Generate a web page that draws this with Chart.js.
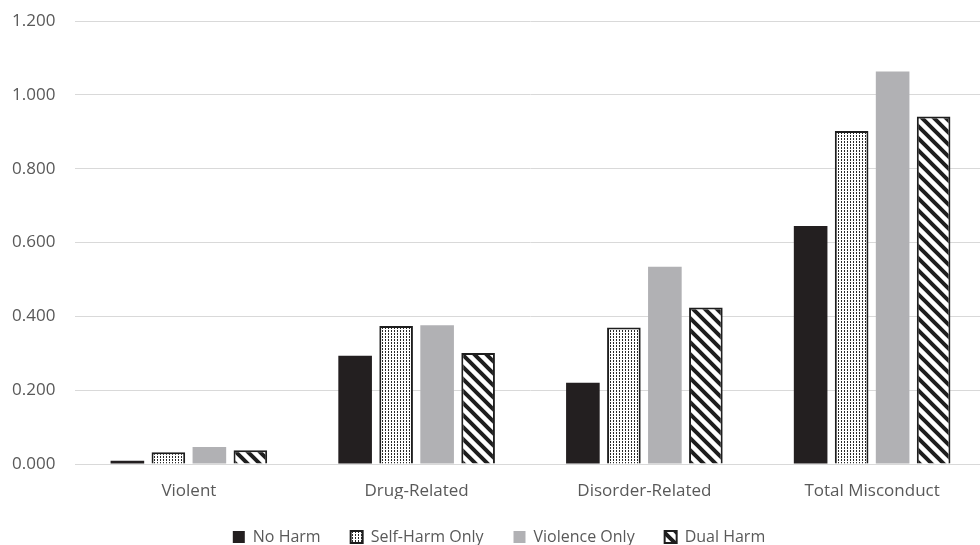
<!DOCTYPE html>
<html>
<head>
<meta charset="utf-8">
<script src="https://cdn.jsdelivr.net/npm/chart.js@4/dist/chart.umd.min.js"></script>
<style>
  html, body { margin: 0; padding: 0; background: #ffffff; overflow: hidden; }
  #wrap { width: 986px; height: 545px; position: relative; }
</style>
</head>
<body>
<div id="wrap"><canvas id="chart"></canvas></div>
<script>
// Misconduct rates by harm group
const categories = ['Violent', 'Drug-Related', 'Disorder-Related', 'Total Misconduct'];
const noHarm        = [0.009, 0.293, 0.220, 0.645];
const selfHarmOnly  = [0.032, 0.374, 0.370, 0.902];
const violenceOnly  = [0.046, 0.376, 0.534, 1.063];
const dualHarm      = [0.037, 0.301, 0.424, 0.941];
const yTicks = [0, 0.2, 0.4, 0.6, 0.8, 1.0, 1.2];

const textColor = '#595959';
const fontFamily = "'Open Sans', 'Liberation Sans', sans-serif";

function makeCanvas(w, h) {
  const c = document.createElement('canvas');
  c.width = w; c.height = h;
  return c;
}

// fine dot grid fill
function dotPattern() {
  const c = makeCanvas(3, 3);
  const g = c.getContext('2d');
  g.fillStyle = '#ffffff';
  g.fillRect(0, 0, 3, 3);
  g.fillStyle = '#2a2a2a';
  g.fillRect(1, 0, 1, 2);
  return g.createPattern(c, 'repeat');
}

// wide diagonal stripes running top-left to bottom-right
function stripePattern() {
  const s = 12;
  const c = makeCanvas(s, s);
  const g = c.getContext('2d');
  g.fillStyle = '#ffffff';
  g.fillRect(0, 0, s, s);
  g.strokeStyle = '#1e1e1e';
  g.lineWidth = 4;
  g.lineCap = 'square';
  for (let k = -1; k <= 1; k++) {
    g.beginPath();
    g.moveTo(k * s - 2, -2);
    g.lineTo(k * s + s + 2, s + 2);
    g.stroke();
  }
  return g.createPattern(c, 'repeat');
}

const ctx = document.getElementById('chart').getContext('2d');
new Chart(ctx, {
  type: 'bar',
  data: {
    labels: categories,
    datasets: [
      { label: 'No Harm', data: noHarm, backgroundColor: '#231f20', borderWidth: 0 },
      { label: 'Self-Harm Only', data: selfHarmOnly, backgroundColor: dotPattern(), borderColor: '#1e1e1e', borderWidth: 2 },
      { label: 'Violence Only', data: violenceOnly, backgroundColor: '#b1b1b4', borderWidth: 0 },
      { label: 'Dual Harm', data: dualHarm, backgroundColor: stripePattern(), borderColor: '#1e1e1e', borderWidth: 2 }
    ]
  },
  options: {
    responsive: true,
    maintainAspectRatio: false,
    animation: false,
    categoryPercentage: 0.72,
    barPercentage: 0.82,
    layout: { padding: { top: 21, left: 12, right: 0, bottom: 0 } },
    plugins: {
      tooltip: { enabled: false },
      legend: {
        position: 'bottom',
        maxHeight: 46,
        labels: {
          color: textColor,
          font: { family: fontFamily, size: 16 },
          boxWidth: 12,
          boxHeight: 12,
          padding: 30,
          useBorderRadius: false
        }
      }
    },
    scales: {
      x: {
        afterFit: (scale) => { scale.height = 35; },
        grid: { display: false, drawTicks: false },
        border: { display: true, color: '#d9d9d9', width: 1 },
        ticks: { color: textColor, font: { family: fontFamily, size: 17, lineHeight: 1.08 }, padding: 18 }
      },
      y: {
        min: 0,
        max: 1.2,
        afterBuildTicks: (scale) => { scale.ticks = yTicks.map(v => ({ value: v })); },
        afterFit: (scale) => { scale.width = 63; },
        grid: { color: '#d9d9d9', lineWidth: 1, drawTicks: false },
        border: { display: false },
        ticks: {
          color: textColor,
          font: { family: fontFamily, size: 17 },
          padding: 0,
          crossAlign: 'far',
          callback: (v) => Number(v).toFixed(3)
        }
      }
    }
  }
});
</script>
</body>
</html>
